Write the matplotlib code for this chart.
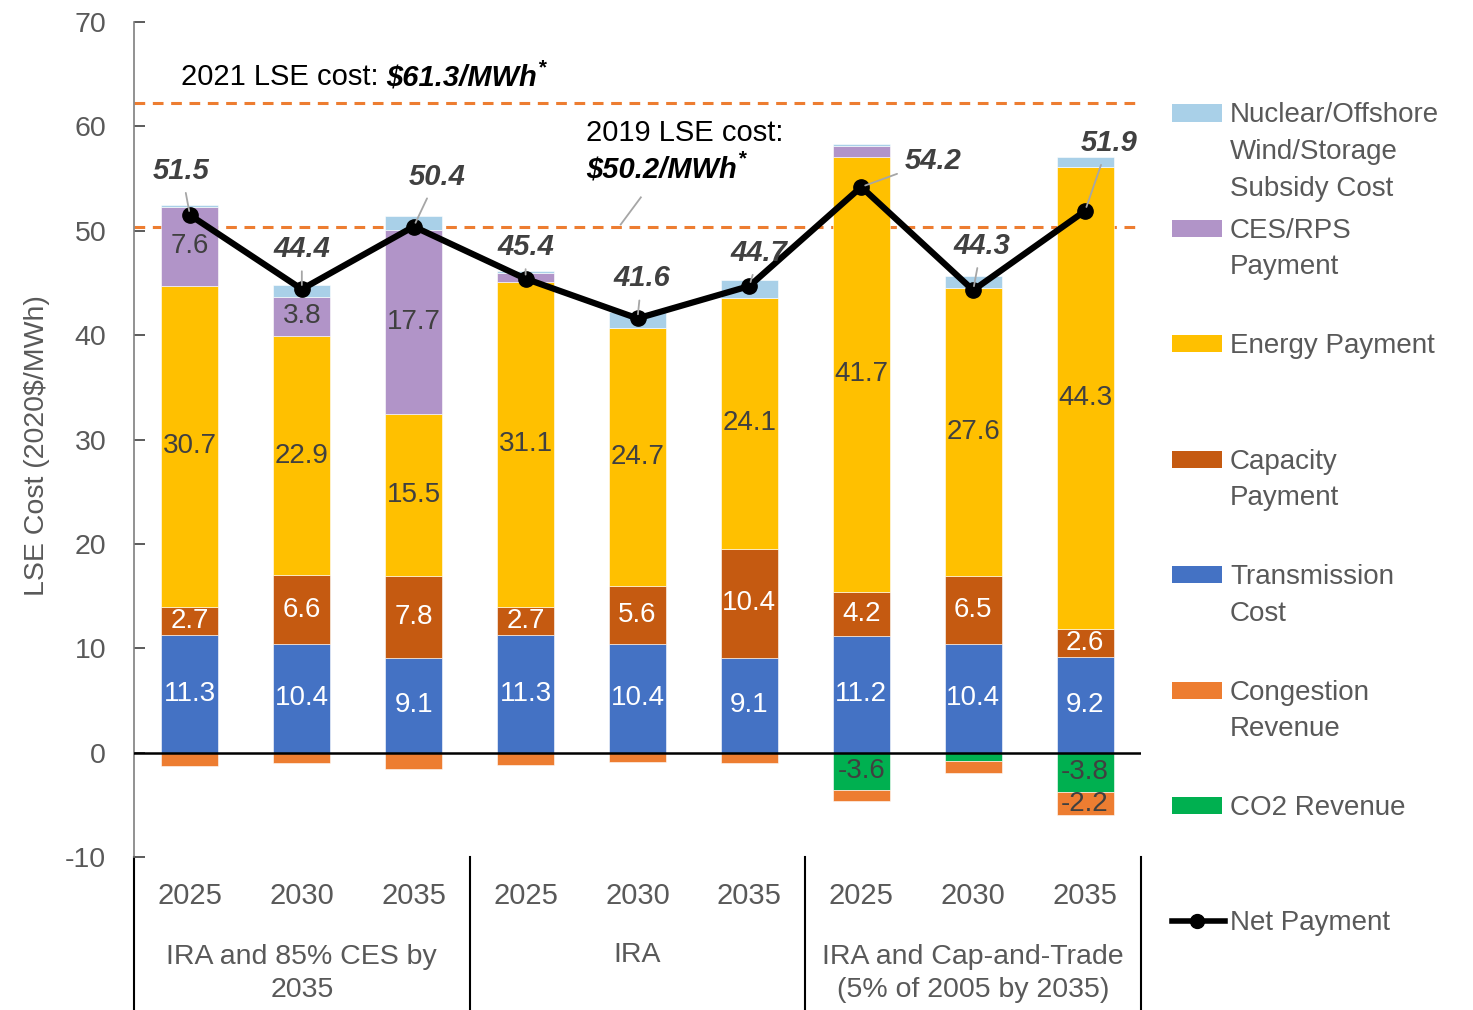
import matplotlib
matplotlib.use("Agg")
import matplotlib.pyplot as plt
from matplotlib.patches import Rectangle
from matplotlib.lines import Line2D
import numpy as np

plt.rcParams['font.family'] = ['Liberation Sans', 'DejaVu Sans']
plt.rcParams['axes.unicode_minus'] = False

# Data (2020$/MWh)
groups = ["IRA and 85% CES by\n2035", "IRA", "IRA and Cap-and-Trade\n(5% of 2005 by 2035)"]
years = ["2025", "2030", "2035"] * 3
transmission = [11.3, 10.4, 9.1, 11.3, 10.4, 9.1, 11.2, 10.4, 9.2]
capacity = [2.7, 6.6, 7.8, 2.7, 5.6, 10.4, 4.2, 6.5, 2.6]
energy = [30.7, 22.9, 15.5, 31.1, 24.7, 24.1, 41.7, 27.6, 44.3]
ces = [7.6, 3.8, 17.7, 0.85, 0.0, 0.0, 1.05, 0.0, 0.0]
nuclear = [0.15, 1.1, 1.3, 0.15, 1.5, 1.65, 0.2, 1.2, 1.0]
co2 = [0.0, 0.0, 0.0, 0.0, 0.0, 0.0, -3.6, -0.8, -3.8]
congestion = [-1.3, -1.0, -1.6, -1.15, -0.9, -1.0, -1.05, -1.15, -2.2]
net = [51.5, 44.4, 50.4, 45.4, 41.6, 44.7, 54.2, 44.3, 51.9]
ref_levels = [62.2, 50.4]  # 2021 and 2019 LSE cost lines as drawn

# offsets (points) of net labels from their markers
net_offsets = [(-6, 32), (0, 29), (17, 36), (0, 23), (3, 29), (7, 24), (52, 19), (6, 32), (17, 49)]

colors = {
    'nuclear': '#a9d0e8', 'ces': '#b194c8', 'energy': '#ffc000', 'capacity': '#c55a11',
    'transmission': '#4472c4', 'congestion': '#ed7d31', 'co2': '#00b050',
}
dark = '#404040'
grey = '#595959'

fig = plt.figure(figsize=(14.73, 10.10), dpi=100)
ax = fig.add_axes([134 / 1473, 153 / 1010, 1007 / 1473, 835 / 1010])

x = np.arange(len(net))
w = 0.51

# positive stack
pos_series = [('transmission', transmission, 'white'), ('capacity', capacity, 'white'),
              ('energy', energy, dark), ('ces', ces, dark), ('nuclear', nuclear, dark)]
bottom = np.zeros(len(x))
for key, vals, tc in pos_series:
    vals = np.array(vals)
    ax.bar(x, vals, w, bottom=bottom, color=colors[key], edgecolor='white', linewidth=0.4, zorder=2)
    for xi, b, v in zip(x, bottom, vals):
        if abs(v) >= 2:
            ax.text(xi, b + v / 2, f"{v:.1f}", ha='center', va='center', fontsize=20, color=tc, zorder=4)
    bottom += vals

# negative stack
neg_series = [('co2', co2, dark), ('congestion', congestion, dark)]
bottom = np.zeros(len(x))
for key, vals, tc in neg_series:
    vals = np.array(vals)
    ax.bar(x, vals, w, bottom=bottom, color=colors[key], edgecolor='white', linewidth=0.4, zorder=2)
    for xi, b, v in zip(x, bottom, vals):
        if abs(v) >= 2:
            ax.text(xi, b + v / 2, f"{v:.1f}", ha='center', va='center', fontsize=20, color=tc, zorder=4)
    bottom += vals

# zero line and reference lines
ax.axhline(0, color='black', linewidth=1.8, zorder=3)
for lvl in ref_levels:
    ax.axhline(lvl, color='#ed7d31', linestyle=(0, (3.5, 2.5)), linewidth=2.2, zorder=1)

# net payment line
ax.plot(x, net, color='black', linewidth=4.5, marker='o', markersize=11, zorder=5)
for xi, v, (dx, dy) in zip(x, net, net_offsets):
    ax.annotate(f"{v:.1f}", xy=(xi, v), xytext=(dx, dy), textcoords='offset points',
                ha='center', va='center', fontsize=21, fontweight='bold', fontstyle='italic',
                color=dark, zorder=6,
                arrowprops=dict(arrowstyle='-', color='#a6a6a6', linewidth=1.3, shrinkA=4, shrinkB=3))

# reference line labels
t1 = ax.text(-0.08, 64.7, "2021 LSE cost: ", fontsize=21, color='black', va='center', ha='left')
t2 = ax.annotate("$61.3/MWh", xy=(1, 0.5), xycoords=t1, va='center', ha='left', fontsize=21,
                 fontweight='bold', fontstyle='italic', color='black')
ax.annotate("*", xy=(1, 0.85), xycoords=t2, va='center', ha='left', fontsize=15,
            fontweight='bold', fontstyle='italic', color='black')

t3 = ax.text(3.54, 59.4, "2019 LSE cost:", fontsize=21, color='black', va='center', ha='left')
t4 = ax.text(3.54, 55.9, "$50.2/MWh", fontsize=21, fontweight='bold', fontstyle='italic',
             color='black', va='center', ha='left')
ax.annotate("*", xy=(1, 0.85), xycoords=t4, va='center', ha='left', fontsize=15,
            fontweight='bold', fontstyle='italic', color='black')
ax.plot([4.03, 3.85], [53.2, 50.6], color='#a6a6a6', linewidth=1.3, zorder=4)

# axes styling
ax.set_xlim(-0.5, 8.5)
ax.set_ylim(-10, 70)
ax.set_yticks(range(-10, 71, 10))
ax.set_xticks([])
ax.tick_params(axis='y', direction='in', length=8, width=1.2, color='#404040',
               labelsize=20.5, labelcolor=grey, pad=20)
for s in ['top', 'right', 'bottom']:
    ax.spines[s].set_visible(False)
ax.spines['left'].set_color('#7f7f7f')
ax.spines['left'].set_linewidth(1.2)
ax.set_ylabel("LSE Cost (2020$/MWh)", fontsize=20.5, color=grey)
ax.yaxis.set_label_coords(-0.083, 0.493)

# category axis below the plot
trans = ax.get_xaxis_transform()
for xi, yr in zip(x, years):
    ax.text(xi, -0.047, yr, transform=trans, ha='center', va='center', fontsize=21, color=grey)
for gi, g in enumerate(groups):
    yc = -0.139 if '\n' in g else -0.117
    ax.text(3 * gi + 1, yc, g, transform=trans, ha='center', va='center', fontsize=20.5,
            color=grey, linespacing=1.35)
for xs in [-0.5, 2.5, 5.5, 8.5]:
    ax.plot([xs, xs], [0, -0.184], transform=trans, color='black', linewidth=1.5, clip_on=False)

# legend drawn on the right
legend_items = [
    ('nuclear', ["Nuclear/Offshore", "Wind/Storage", "Subsidy Cost"]),
    ('ces', ["CES/RPS", "Payment"]),
    ('energy', ["Energy Payment"]),
    ('capacity', ["Capacity", "Payment"]),
    ('transmission', ["Transmission", "Cost"]),
    ('congestion', ["Congestion", "Revenue"]),
    ('co2', ["CO2 Revenue"]),
    ('net', ["Net Payment"]),
]
H = 1010.0
Wf = 1473.0
for i, (key, lines) in enumerate(legend_items):
    yc = 113 + i * 115.4
    if key == 'net':
        fig.add_artist(Line2D([1172 / Wf, 1225 / Wf], [1 - yc / H, 1 - yc / H], color='black',
                              linewidth=4, marker=None))
        fig.add_artist(Line2D([1197 / Wf], [1 - yc / H], color='black', marker='o', markersize=10))
    else:
        fig.add_artist(Rectangle((1172 / Wf, 1 - (yc + 8.5) / H), 50 / Wf, 17 / H,
                                 facecolor=colors[key], edgecolor='none', transform=fig.transFigure))
    for j, ln in enumerate(lines):
        fig.text(1230 / Wf, 1 - (yc + 9.5 + j * 36.5) / H, ln, fontsize=20, color=grey,
                 ha='left', va='baseline')

fig.savefig("out.png", dpi=100)
